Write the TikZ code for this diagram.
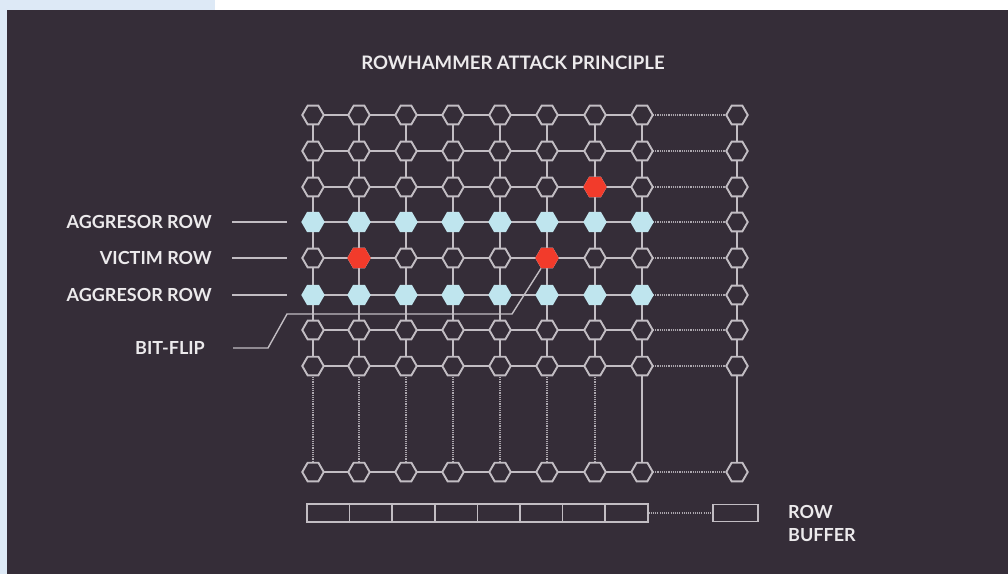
\documentclass[tikz,border=0pt]{standalone}
\usepackage{fontspec}
\setmainfont{Lato}
\usetikzlibrary{shapes.geometric}

\definecolor{panel}{HTML}{352D38}
\definecolor{edgeblue}{HTML}{DDE9F6}
\definecolor{wire}{HTML}{C2BDC3}
\definecolor{dotwire}{HTML}{ACA7AE}
\definecolor{aggr}{HTML}{BFE5EE}
\definecolor{flip}{HTML}{F23B2B}
\definecolor{ink}{HTML}{ECEAEC}

\tikzset{
  cell/.style={regular polygon, regular polygon sides=6, minimum size=21.5pt,
    inner sep=0pt, draw=wire, line width=1.9pt, fill=panel},
  hotcell/.style={regular polygon, regular polygon sides=6, minimum size=23.5pt,
    inner sep=0pt, fill=aggr},
  flipcell/.style={regular polygon, regular polygon sides=6, minimum size=23.5pt,
    inner sep=0pt, fill=flip},
  link/.style={draw=wire, line width=2pt},
  dotlink/.style={draw=dotwire, line width=1.5pt, dash pattern=on 1.1pt off 1.1pt},
  lead/.style={draw=wire, line width=1.4pt},
  label/.style={text=ink, font=\fontsize{18}{21}\selectfont\bfseries, inner sep=0pt},
  bufcell/.style={draw=wire, line width=1.5pt, minimum width=42.6pt,
    minimum height=18pt, inner sep=0pt},
}

\begin{document}
\begin{tikzpicture}[x=1pt,y=-1pt]
\useasboundingbox (0,0) rectangle (1008,574);
% frame
\fill[edgeblue] (0,0) rectangle (1008,574);
\fill[white] (215,0) rectangle (1008,10);
\fill[panel] (7,10) rectangle (1008,574);

% title
\node[label, font=\fontsize{18.6}{21}\selectfont\bfseries] (title) at (513,63) {ROWHAMMER ATTACK PRINCIPLE};

% cell positions: columns 1-8 form the array, column 9 is the far column;
% rows 1-8 are the upper rows, row 9 is the last row
\foreach \x [count=\c] in {313,359,406,453,500,547,595,642,737} {
  \foreach \y [count=\r] in {115,151,187,222,258,295,330,366,472} {
    \coordinate (p-\c-\r) at (\x,\y);
  }
}

% word lines
\foreach \r in {1,...,9} {
  \draw[link] (p-1-\r) -- (p-8-\r);
  \draw[dotlink] (p-8-\r) -- (p-9-\r);
}
% bit lines
\foreach \c in {1,...,9} {
  \draw[link] (p-\c-1) -- (p-\c-8);
}
\foreach \c in {1,...,7} {
  \draw[dotlink] (p-\c-8) -- (p-\c-9);
}
\draw[link] (p-8-8) -- (p-8-9);
\draw[link] (p-9-8) -- (p-9-9);

% bit-flip leader bends
\coordinate (bf-a) at (233,348);
\coordinate (bf-b) at (268,348);
\coordinate (bf-c) at (287,314);
\coordinate (bf-d) at (512,314);

% cells
\foreach \c in {1,...,9} {
  \foreach \r in {1,2,3,5,7,8,9} {
    \node[cell] (n-\c-\r) at (p-\c-\r) {};
  }
}
\node[cell] (n-9-4) at (p-9-4) {};
\node[cell] (n-9-6) at (p-9-6) {};
\foreach \c in {1,...,8} {
  \node[hotcell] (n-\c-4) at (p-\c-4) {};
  \node[hotcell] (n-\c-6) at (p-\c-6) {};
}
\node[flipcell] (f-7-3) at (p-7-3) {};
\node[flipcell] (f-2-5) at (p-2-5) {};
\node[flipcell] (f-6-5) at (p-6-5) {};

\draw[lead] (bf-a) -- (bf-b) -- (bf-c) -- (bf-d) -- (f-6-5.240);

% labels
\node[label, anchor=east] (l-agg1) at (212,222) {AGGRESOR ROW};
\node[label, anchor=east] (l-vic)  at (212,258) {VICTIM ROW};
\node[label, anchor=east] (l-agg2) at (212,295) {AGGRESOR ROW};
\node[label, anchor=east] (l-bit)  at (205,348) {BIT-FLIP};
\foreach \y/\n in {222/a, 258/v, 295/b} {
  \coordinate (ls-\n) at (232,\y);
  \coordinate (le-\n) at (287,\y);
  \draw[lead] (ls-\n) -- (le-\n);
}

% row buffer
\foreach \k in {1,...,8} {
  \node[bufcell] (buf-\k) at ({307+42.6*(\k-0.5)},513) {};
}
\node[bufcell, minimum width=45pt, minimum height=17pt] (buf-x) at (735.5,513) {};
\draw[dotlink] (buf-8.east) -- (buf-x.west);
\node[label, anchor=north west, align=left, font=\fontsize{18}{23}\selectfont\bfseries] (buf-txt) at (788,505) {ROW\\BUFFER};
\end{tikzpicture}
\end{document}
